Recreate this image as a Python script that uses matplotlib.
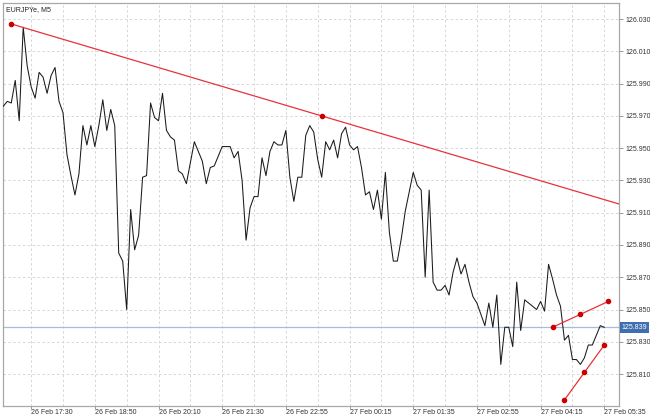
import matplotlib
matplotlib.use("Agg")
import matplotlib.pyplot as plt
import numpy as np

title = "EURJPYe, M5"

prices = [
    125.976, 125.979, 125.978, 125.992, 125.967, 126.025, 126.001, 125.988, 125.981, 125.997,
    125.994, 125.984, 125.995, 126.000, 125.979, 125.972, 125.946, 125.933, 125.921, 125.934,
    125.964, 125.952, 125.964, 125.951, 125.964, 125.980, 125.961, 125.974, 125.964, 125.885,
    125.880, 125.850, 125.912, 125.887, 125.896, 125.932, 125.933, 125.978, 125.969, 125.967,
    125.984, 125.961, 125.957, 125.955, 125.936, 125.934, 125.928, 125.941, 125.954, 125.948,
    125.942, 125.928, 125.938, 125.939, 125.945, 125.951, 125.951, 125.951, 125.944, 125.948,
    125.930, 125.893, 125.913, 125.920, 125.920, 125.944, 125.933, 125.948, 125.954, 125.952,
    125.952, 125.961, 125.932, 125.917, 125.932, 125.932, 125.958, 125.964, 125.960, 125.943,
    125.932, 125.954, 125.949, 125.955, 125.944, 125.959, 125.963, 125.952, 125.949, 125.951,
    125.938, 125.921, 125.923, 125.912, 125.924, 125.906, 125.935, 125.898, 125.880, 125.880,
    125.894, 125.911, 125.923, 125.935, 125.927, 125.924, 125.870, 125.924, 125.867, 125.862,
    125.862, 125.865, 125.859, 125.873, 125.882, 125.872, 125.878, 125.867, 125.858, 125.854,
    125.847, 125.840, 125.854, 125.839, 125.859, 125.816, 125.839, 125.839, 125.827, 125.867,
    125.837, 125.856, 125.854, 125.852, 125.850, 125.855, 125.849, 125.878, 125.869, 125.859,
    125.852, 125.831, 125.834, 125.819, 125.819, 125.816, 125.820, 125.828, 125.828, 125.834,
    125.840, 125.839,
]

current_price = 125.839

# trend line anchors (bar index, price)
trend_main_x = [2, 80]
trend_main_y = [126.027, 125.970]
chan_upper_x = [138, 145, 152]
chan_upper_y = [125.839, 125.847, 125.855]
chan_lower_x = [141, 146, 151]
chan_lower_y = [125.794, 125.811, 125.828]

time_labels = ["26 Feb 17:30", "26 Feb 18:50", "26 Feb 20:10", "26 Feb 21:30",
               "26 Feb 22:55", "27 Feb 00:15", "27 Feb 01:35", "27 Feb 02:55",
               "27 Feb 04:15", "27 Feb 05:35"]
time_label_pos = [7, 23, 39, 55, 71, 87, 103, 119, 135, 151]
price_ticks = [126.030, 126.010, 125.990, 125.970, 125.950, 125.930, 125.910,
               125.890, 125.870, 125.850, 125.830, 125.810]

FONT = "Liberation Sans"
W, H = 650, 417
fig = plt.figure(figsize=(W / 100, H / 100), dpi=100)
fig.patch.set_facecolor("white")
ax = fig.add_axes([3.3 / W, 1 - 406 / H, (619 - 3.3) / W, (406 - 3.3) / H])

x = np.arange(len(prices))
xmin, xmax = 0, 154.7
ymin, ymax = 125.7902, 126.0398
ax.set_xlim(xmin, xmax)
ax.set_ylim(ymin, ymax)

grid_col = "#d6d6d6"
for gx in np.arange(7, xmax, 8):
    ax.axvline(gx, color=grid_col, lw=0.7, ls=(0, (2.5, 2.5)), zorder=0)
for gy in price_ticks:
    ax.axhline(gy, color=grid_col, lw=0.7, ls=(0, (2.5, 2.5)), zorder=0)

ax.axhline(current_price, color="#a3bedd", lw=0.9, zorder=1)

ax.plot(x, prices, color="#1a1a1a", lw=0.75, zorder=3)

red = "#e8313a"
dot = "#cc0000"
# main trend ray extended to right edge
slope = (trend_main_y[1] - trend_main_y[0]) / (trend_main_x[1] - trend_main_x[0])
ray_x = [trend_main_x[0], xmax]
ray_y = [trend_main_y[0], trend_main_y[0] + slope * (xmax - trend_main_x[0])]
ax.plot(ray_x, ray_y, color=red, lw=0.9, zorder=4, clip_on=True)
ax.plot(trend_main_x, trend_main_y, ls="none", marker="o", ms=3, color=dot, zorder=5)

for xs, ys in [(chan_upper_x, chan_upper_y), (chan_lower_x, chan_lower_y)]:
    ax.plot(xs, ys, color=red, lw=0.9, zorder=4)
    ax.plot(xs, ys, ls="none", marker="o", ms=3, color=dot, zorder=5)

for s in ax.spines.values():
    s.set_color("#a8a8a8")
    s.set_linewidth(0.9)

ax.yaxis.tick_right()
ax.set_yticks(price_ticks)
ax.set_yticklabels([f"{p:.3f}" for p in price_ticks], fontsize=5, family=FONT, color="#333333")
ax.tick_params(axis="y", length=3, width=0.6, color="#888888", pad=1.5)

ax.set_xticks(time_label_pos)
ax.set_xticklabels(time_labels, fontsize=5, family=FONT, color="#333333", ha="left")
ax.tick_params(axis="x", length=2, width=0.6, color="#888888", pad=0.5)

ax.text(1.004, current_price, f"{current_price:.3f}", transform=ax.get_yaxis_transform(),
        fontsize=5, family=FONT, color="white", va="center", ha="left",
        bbox=dict(boxstyle="square,pad=0.25", fc="#3f6fb0", ec="none"), zorder=6, clip_on=False)

ax.text(2.5 / (619 - 3.3), 1 - 6 / 403, title, transform=ax.transAxes, fontsize=5,
        family=FONT, color="#222222", va="center", ha="left")

fig.savefig("out.png", dpi=100, facecolor="white")
